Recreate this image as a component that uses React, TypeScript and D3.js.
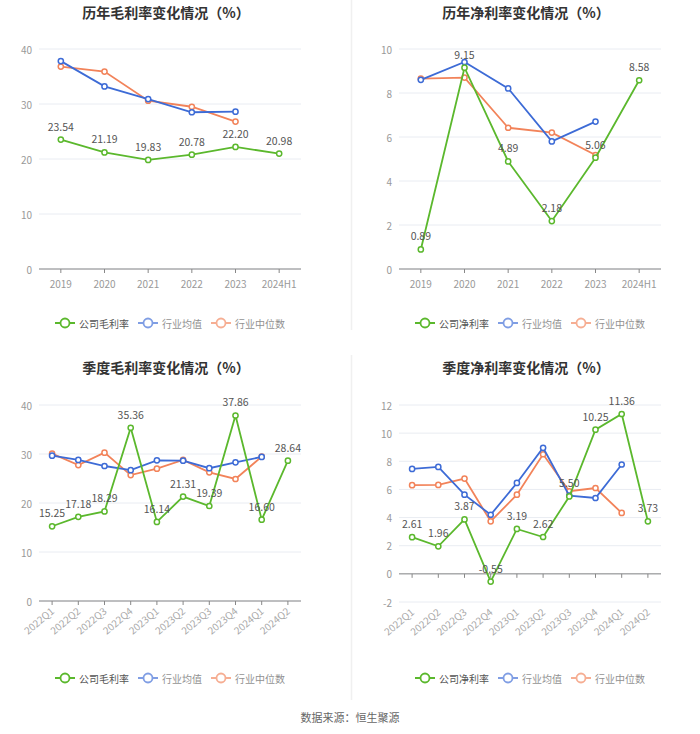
import React from "react";
import * as d3 from "d3";

const years = ["2019", "2020", "2021", "2022", "2023", "2024H1"];
const quarters = ["2022Q1", "2022Q2", "2022Q3", "2022Q4", "2023Q1", "2023Q2", "2023Q3", "2023Q4", "2024Q1", "2024Q2"];

const annualGrossCompany = [23.54, 21.19, 19.83, 20.78, 22.2, 20.98];
const annualGrossAvg = [37.8, 33.2, 30.9, 28.5, 28.6];
const annualGrossMedian = [36.8, 35.9, 30.6, 29.5, 26.8];

const annualNetCompany = [0.89, 9.15, 4.89, 2.18, 5.06, 8.58];
const annualNetAvg = [8.6, 9.41, 8.21, 5.8, 6.7];
const annualNetMedian = [8.65, 8.7, 6.42, 6.2, 5.18];

const qGrossCompany = [15.25, 17.18, 18.29, 35.36, 16.14, 21.31, 19.39, 37.86, 16.6, 28.64];
const qGrossAvg = [29.66, 28.8, 27.55, 26.7, 28.7, 28.64, 27.1, 28.3, 29.4];
const qGrossMedian = [30.07, 27.75, 30.27, 25.7, 27.0, 28.8, 26.26, 24.9, 29.46];

const qNetCompany = [2.61, 1.96, 3.87, -0.55, 3.19, 2.62, 5.5, 10.25, 11.36, 3.73];
const qNetAvg = [7.46, 7.6, 5.63, 4.2, 6.46, 8.96, 5.56, 5.39, 7.77];
const qNetMedian = [6.3, 6.32, 6.77, 3.73, 5.63, 8.5, 5.87, 6.1, 4.33];

const grossTicks = [0, 10, 20, 30, 40];
const netTicks = [0, 2, 4, 6, 8, 10];
const qNetTicks = [-2, 0, 2, 4, 6, 8, 10, 12];

const legendIndustryAvg = "行业均值";
const legendIndustryMedian = "行业中位数";

const GREEN = "#5bb82d";
const BLUE = "#3d6bd6";
const ORANGE = "#f2835a";
const FONT = "'Noto Sans CJK SC', 'Noto Sans', sans-serif";

type PanelProps = {
  title: string;
  companyName: string;
  categories: string[];
  company: number[];
  avg: number[];
  median: number[];
  ticks: number[];
  ox: number;
  top: number;
  bottom: number;
  titleY: number;
  legendY: number;
  rotate: boolean;
};

function Panel(p: PanelProps) {
  const x = d3.scaleBand<string>().domain(p.categories).range([p.ox + 39, p.ox + 301]);
  const cx = (c: string) => (x(c) as number) + x.bandwidth() / 2;
  const y = d3
    .scaleLinear()
    .domain([p.ticks[0], p.ticks[p.ticks.length - 1]])
    .range([p.bottom, p.top]);
  const line = d3
    .line<number>()
    .x((_, i) => cx(p.categories[i]))
    .y((d) => y(d));
  const axisY = y(Math.max(0, p.ticks[0]));
  const series = [
    { data: p.median, color: ORANGE },
    { data: p.avg, color: BLUE },
    { data: p.company, color: GREEN },
  ];
  const legendItems = [
    { name: p.companyName, color: GREEN, w: p.companyName.length * 10, op: 1 },
    { name: legendIndustryAvg, color: BLUE, w: legendIndustryAvg.length * 10, op: 0.65 },
    { name: legendIndustryMedian, color: ORANGE, w: legendIndustryMedian.length * 10, op: 0.65 },
  ];
  const total = legendItems.reduce((s, it) => s + 24 + it.w, 0) + 2 * 9;
  let lx = p.ox + 170 - total / 2;
  const legendPos = legendItems.map((it) => {
    const pos = lx;
    lx += 24 + it.w + 9;
    return pos;
  });
  return (
    <g fontFamily={FONT}>
      <text x={p.ox + 166} y={p.titleY} textAnchor="middle" dominantBaseline="central" fontSize={14} fontWeight="bold" fill="#333">
        {p.title}
      </text>
      {p.ticks.map((t) => (
        <g key={t}>
          <line x1={p.ox + 39} x2={p.ox + 301} y1={y(t)} y2={y(t)} stroke="#e9ecf2" strokeWidth={1} />
          <text x={p.ox + 32} y={y(t)} textAnchor="end" dominantBaseline="central" fontSize={10} fill="#999">
            {t}
          </text>
        </g>
      ))}
      <line x1={p.ox + 39} x2={p.ox + 301} y1={axisY} y2={axisY} stroke="#888" strokeWidth={1} />
      {p.categories.map((c) => (
        <g key={c}>
          <line x1={cx(c)} x2={cx(c)} y1={axisY} y2={axisY + 4} stroke="#888" strokeWidth={1} />
          {p.rotate ? (
            <text
              transform={`translate(${cx(c)},${p.bottom + 8}) rotate(-40)`}
              textAnchor="end"
              dominantBaseline="central"
              fontSize={10}
              fill="#aaa"
            >
              {c}
            </text>
          ) : (
            <text x={cx(c)} y={axisY + 14} textAnchor="middle" dominantBaseline="central" fontSize={10} fill="#999">
              {c}
            </text>
          )}
        </g>
      ))}
      {series.map((s, si) => (
        <g key={si}>
          <path d={line(s.data) || ""} fill="none" stroke={s.color} strokeWidth={1.8} />
          {s.data.map((v, i) => (
            <circle key={i} cx={cx(p.categories[i])} cy={y(v)} r={2.6} fill="#fff" stroke={s.color} strokeWidth={1.5} />
          ))}
        </g>
      ))}
      {p.company.map((v, i) => (
        <text key={i} x={cx(p.categories[i])} y={y(v) - 9} textAnchor="middle" fontSize={10.5} fill="#555">
          {v.toFixed(2)}
        </text>
      ))}
      {legendItems.map((it, i) => (
        <g key={it.name} opacity={it.op}>
          <line x1={legendPos[i]} x2={legendPos[i] + 20} y1={p.legendY} y2={p.legendY} stroke={it.color} strokeWidth={2} />
          <circle cx={legendPos[i] + 10} cy={p.legendY} r={4.5} fill="#fff" stroke={it.color} strokeWidth={1.8} />
          <text x={legendPos[i] + 24} y={p.legendY} dominantBaseline="central" fontSize={10} fill="#555">
            {it.name}
          </text>
        </g>
      ))}
    </g>
  );
}

export default function App() {
  return (
    <svg width={700} height={734} style={{ position: "absolute", left: 0, top: 0, background: "#fff" }}>
      <rect x={0} y={0} width={700} height={734} fill="#fff" />
      <line x1={351.5} x2={351.5} y1={0} y2={330} stroke="#f0f0f0" strokeWidth={1.5} />
      <line x1={351.5} x2={351.5} y1={355} y2={700} stroke="#f0f0f0" strokeWidth={1.5} />
      <Panel
        title="历年毛利率变化情况（%）"
        companyName="公司毛利率"
        categories={years}
        company={annualGrossCompany}
        avg={annualGrossAvg}
        median={annualGrossMedian}
        ticks={grossTicks}
        ox={0}
        top={49}
        bottom={269}
        titleY={12}
        legendY={323}
        rotate={false}
      />
      <Panel
        title="历年净利率变化情况（%）"
        companyName="公司净利率"
        categories={years}
        company={annualNetCompany}
        avg={annualNetAvg}
        median={annualNetMedian}
        ticks={netTicks}
        ox={360}
        top={49}
        bottom={269}
        titleY={12}
        legendY={323}
        rotate={false}
      />
      <Panel
        title="季度毛利率变化情况（%）"
        companyName="公司毛利率"
        categories={quarters}
        company={qGrossCompany}
        avg={qGrossAvg}
        median={qGrossMedian}
        ticks={grossTicks}
        ox={0}
        top={405}
        bottom={601}
        titleY={367}
        legendY={678}
        rotate={true}
      />
      <Panel
        title="季度净利率变化情况（%）"
        companyName="公司净利率"
        categories={quarters}
        company={qNetCompany}
        avg={qNetAvg}
        median={qNetMedian}
        ticks={qNetTicks}
        ox={360}
        top={405}
        bottom={602}
        titleY={367}
        legendY={678}
        rotate={true}
      />
      <text x={350} y={717} textAnchor="middle" dominantBaseline="central" fontSize={11} fill="#666" fontFamily={FONT}>
        数据来源：恒生聚源
      </text>
    </svg>
  );
}
